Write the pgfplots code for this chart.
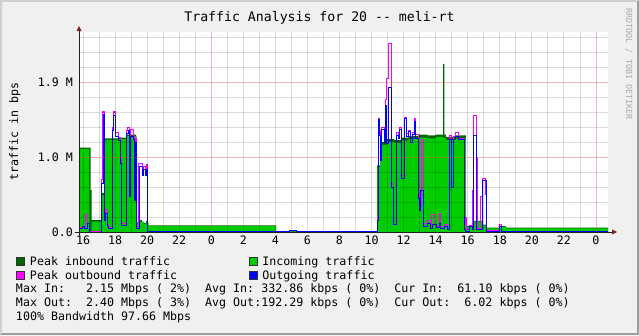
\documentclass[border=0pt]{standalone}
\usepackage{pgfplots}
\usepackage{pgfplotstable}
\pgfplotsset{compat=1.18}
\usepackage{fontspec}
\setmonofont{DejaVu Sans Mono}
\definecolor{canvas}{HTML}{F0F0F0}
\definecolor{shadeA}{HTML}{CFCFCF}
\definecolor{shadeB}{HTML}{9E9E9E}
\definecolor{peakin}{HTML}{006600}
\definecolor{inc}{HTML}{00CC00}
\definecolor{peakout}{HTML}{FF00FF}
\definecolor{outg}{HTML}{0000FF}
\definecolor{axiscol}{HTML}{1F1F1F}
\definecolor{arrowcol}{HTML}{801F1F}
\definecolor{mgrid}{HTML}{DE4F4F}
\definecolor{wmark}{HTML}{AAAAAA}

% Peak inbound traffic (x = hour, y = value in grid units of the "M" scale)
\pgfplotstableread{
x y
15.75 1.125
16.47 0.56
16.53 0.16
17.15 0.52
17.37 1.25
18.20 1.26
18.73 1.30
19.31 1.05
19.37 0.13
19.56 0.16
19.68 0.12
19.93 0.15
19.99 0.12
20.07 0.09
28.04 0.005
28.91 0.015
29.29 0.005
34.34 0.89
34.53 1.20
34.96 1.24
35.40 1.23
35.90 1.26
36.30 1.28
36.90 1.30
37.50 1.29
38.00 1.30
38.46 2.24
38.54 1.30
38.64 1.27
39.20 1.29
39.89 0.17
39.95 0.08
40.33 0.15
40.89 0.10
41.20 0.06
42.14 0.08
42.39 0.06
48.75 0.06
}\peakin

% Incoming traffic
\pgfplotstableread{
x y
15.75 1.11
16.39 0.00
16.53 0.14
17.15 0.49
17.37 1.23
18.20 1.24
18.73 1.28
19.34 0.12
19.56 0.14
19.81 0.11
19.93 0.13
20.07 0.08
28.04 0.00
28.91 0.01
29.29 0.00
34.36 0.87
34.53 1.16
34.96 1.20
35.40 1.19
35.90 1.22
36.30 1.24
36.90 1.26
37.50 1.25
38.00 1.27
38.46 1.26
38.64 1.23
38.89 1.23
39.20 1.25
39.89 0.07
40.33 0.14
40.89 0.09
41.20 0.05
42.14 0.07
42.39 0.05
48.75 0.05
}\incoming

% Peak outbound traffic
\pgfplotstableread{
x y
15.75 0.25
15.81 0.06
15.94 0.08
16.16 0.23
16.31 0.12
16.39 0.01
17.17 0.70
17.23 1.60
17.34 0.20
17.43 0.30
17.53 0.10
17.59 0.06
17.83 1.40
17.90 1.60
18.00 1.33
18.20 1.26
18.33 1.00
18.41 0.12
18.70 1.35
18.76 1.40
18.89 0.50
18.95 1.30
18.99 1.37
19.12 1.28
19.20 0.45
19.26 1.25
19.32 0.07
19.49 0.91
19.71 0.84
19.76 0.88
19.89 0.82
19.96 0.90
20.04 0.01
28.91 0.025
29.29 0.01
34.34 0.20
34.42 1.51
34.48 1.35
34.57 1.00
34.63 1.40
34.78 1.25
34.84 1.76
34.95 2.05
35.05 2.51
35.23 0.65
35.36 0.16
35.53 1.33
35.67 1.28
35.77 1.40
35.88 0.75
36.04 1.53
36.15 1.32
36.29 1.36
36.44 1.28
36.57 1.33
36.65 1.51
36.77 1.30
36.92 0.50
37.02 0.35
37.13 1.23
37.27 0.12
37.46 0.15
37.65 0.07
37.75 0.24
37.90 0.10
38.02 0.08
38.23 0.25
38.31 0.13
38.33 0.07
38.52 0.10
38.71 0.06
38.85 1.29
39.00 0.65
39.10 1.27
39.21 1.33
39.41 1.25
39.80 0.10
39.83 0.20
39.92 0.03
40.14 0.09
40.31 0.56
40.39 1.56
40.53 1.00
40.58 0.50
40.62 0.05
40.77 0.47
40.93 0.72
41.08 0.50
41.14 0.02
42.01 0.10
42.12 0.01
48.75 0.01
}\peakout

% Outgoing traffic
\pgfplotstableread{
x y
15.75 0.14
15.81 0.05
15.94 0.07
16.12 0.05
16.28 0.12
16.39 0.00
17.17 0.65
17.25 1.57
17.34 0.15
17.43 0.25
17.53 0.08
17.59 0.05
17.84 1.36
17.90 1.56
18.00 1.28
18.20 1.22
18.33 0.92
18.41 0.09
18.70 1.31
18.83 1.36
18.89 0.47
18.95 1.27
19.12 1.24
19.20 0.42
19.26 1.20
19.32 0.05
19.51 0.87
19.71 0.76
19.76 0.84
19.89 0.76
19.96 0.84
20.04 0.003
28.91 0.02
29.29 0.003
34.34 0.15
34.42 1.50
34.48 1.29
34.57 0.96
34.63 1.37
34.78 1.20
34.84 1.69
34.95 1.18
35.05 1.92
35.23 0.60
35.36 0.10
35.53 1.29
35.67 1.25
35.77 1.37
35.88 0.71
36.04 1.51
36.15 1.27
36.29 1.34
36.44 1.20
36.57 1.30
36.65 1.47
36.77 1.25
36.92 0.45
37.02 0.29
37.08 0.56
37.27 0.08
37.46 0.12
37.65 0.05
37.83 0.10
38.02 0.06
38.21 0.12
38.33 0.05
38.52 0.08
38.71 0.04
38.85 1.23
39.00 0.60
39.10 1.23
39.21 1.27
39.41 1.23
39.80 0.04
39.89 0.01
40.14 0.07
40.31 0.03
40.39 1.29
40.53 0.03
40.93 0.69
41.14 0.003
42.01 0.07
42.12 0.003
48.75 0.003
}\outgoing

\newcommand{\rrdfont}{\ttfamily\fontsize{11.64bp}{13bp}\selectfont}

\begin{document}
\begin{tikzpicture}[x=1bp,y=1bp]
% canvas and 3D border
\fill[canvas] (0,0) rectangle (639,335);
\fill[shadeA] (0,0) -- (0,335) -- (639,335) -- (637,333) -- (2,333) -- (2,2) -- cycle;
\fill[shadeB] (0,0) -- (639,0) -- (639,335) -- (637,333) -- (637,2) -- (2,2) -- cycle;

\begin{axis}[
  at={(79bp,103bp)}, anchor=south west,
  scale only axis, width=529bp, height=200bp,
  xmin=15.75, xmax=48.75, ymin=0, ymax=2.6667,
  axis line style={draw=none},
  axis background/.style={fill=white},
  axis on top,
  no markers,
  tick style={draw=none},
  xtick={16,18,...,48},
  xticklabels={16,18,20,22,0,2,4,6,8,10,12,14,16,18,20,22,0},
  minor xtick={16,17,18,19,20,21,22,23,25,26,27,28,29,30,31,32,33,34,35,36,37,38,39,40,41,42,43,44,45,46,47},
  extra x ticks={24,48}, extra x tick labels={},
  extra x tick style={xmajorgrids=true, major grid style={mgrid, opacity=0.4, line width=0.9bp}},
  ytick={0,1,2},
  yticklabels={0.0, 1.0~M, 1.9~M},
  minor ytick={0.2,0.4,0.6,0.8,1.2,1.4,1.6,1.8,2.2,2.4,2.6},
  xmajorgrids=false, xminorgrids=true,
  ymajorgrids=true, yminorgrids=true,
  minor grid style={black, opacity=0.14, line width=0.9bp},
  major grid style={mgrid, opacity=0.4, line width=0.9bp},
  ticklabel style={font=\rrdfont, inner sep=0pt},
  xticklabel style={anchor=north, yshift=-4bp},
  yticklabel style={anchor=east, xshift=-6bp},
]
\addplot[const plot, fill=peakin, draw=none] table {\peakin} \closedcycle;
\addplot[const plot, fill=inc, draw=none] table {\incoming} \closedcycle;
\addplot[const plot, draw=peakout, line width=1bp] table {\peakout};
\addplot[const plot, draw=outg, line width=1bp] table {\outgoing};
\end{axis}

% axis lines with arrows
\draw[axiscol, line width=1bp] (75,103) -- (612,103);
\draw[axiscol, line width=1bp] (79,99) -- (79,304);
\fill[arrowcol] (612,100.5) -- (617,103) -- (612,105.5) -- cycle;
\fill[arrowcol] (76.5,304) -- (79,309) -- (81.5,304) -- cycle;

% title, y label, watermark
\node[anchor=base, inner sep=0pt, font=\ttfamily\fontsize{13.2bp}{15bp}\selectfont] at (319.5,313.5) {Traffic Analysis for 20 -{}- meli-rt};
\node[rotate=90, inner sep=0pt, font=\rrdfont] at (15,203.5) {traffic in bps};
\node[rotate=-90, anchor=west, inner sep=0pt, text=wmark, font=\ttfamily\fontsize{8.4bp}{10bp}\selectfont] at (628.8,326.7) {RRDTOOL / TOBI OETIKER};

% legend
\fill[peakin] (16.5,70) rectangle (24,77.5);
\draw[black!80, line width=0.5bp] (16.5,70) rectangle (24,77.5);
\fill[inc] (249.5,70) rectangle (257,77.5);
\draw[black!80, line width=0.5bp] (249.5,70) rectangle (257,77.5);
\fill[peakout] (16.5,56) rectangle (24,63.5);
\draw[black!80, line width=0.5bp] (16.5,56) rectangle (24,63.5);
\fill[outg] (249.5,56) rectangle (257,63.5);
\draw[black!80, line width=0.5bp] (249.5,56) rectangle (257,63.5);
\node[anchor=base west, inner sep=0pt, font=\rrdfont] at (29.8,70) {Peak inbound traffic};
\node[anchor=base west, inner sep=0pt, font=\rrdfont] at (262.2,70) {Incoming traffic};
\node[anchor=base west, inner sep=0pt, font=\rrdfont] at (29.8,56) {Peak outbound traffic};
\node[anchor=base west, inner sep=0pt, font=\rrdfont] at (262.2,56) {Outgoing traffic};
\node[anchor=base west, inner sep=0pt, font=\rrdfont] at (15.8,42.3) {Max~In:~~~2.15~Mbps~(~2\%)~~Avg~In:~332.86~kbps~(~0\%)~~Cur~In:~~61.10~kbps~(~0\%)};
\node[anchor=base west, inner sep=0pt, font=\rrdfont] at (15.8,28.3) {Max~Out:~~2.40~Mbps~(~3\%)~~Avg~Out:192.29~kbps~(~0\%)~~Cur~Out:~~6.02~kbps~(~0\%)};
\node[anchor=base west, inner sep=0pt, font=\rrdfont] at (15.8,14.3) {100\%~Bandwidth~97.66~Mbps};
\end{tikzpicture}
\end{document}
